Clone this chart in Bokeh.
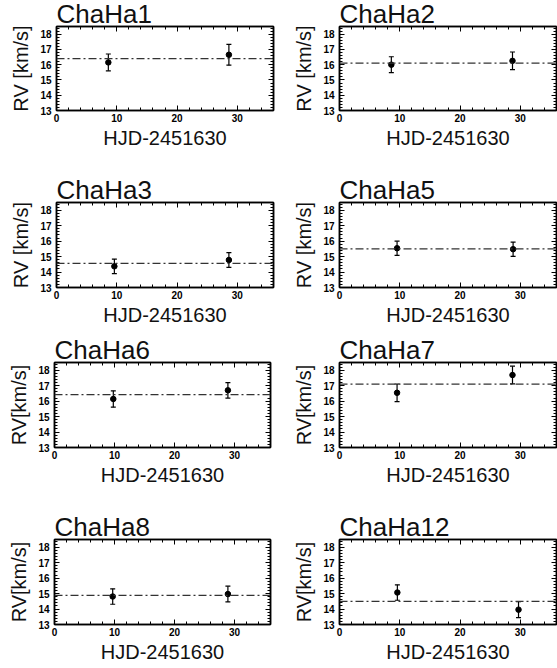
from bokeh.plotting import figure
from bokeh.models import (ColumnDataSource, Whisker, TeeHead, Span, LinearAxis,
                          SingleIntervalTicker, Range1d)
from bokeh.layouts import column, row
from bokeh.embed import file_html
from bokeh.resources import INLINE

# ---------------- data ----------------
stars = ["ChaHa1", "ChaHa2", "ChaHa3", "ChaHa5", "ChaHa6", "ChaHa7", "ChaHa8", "ChaHa12"]
hjd_first = [8.6, 8.6, 9.6, 9.55, 9.8, 9.55, 9.7, 9.6]
hjd_second = [28.6, 28.7, 28.6, 28.8, 28.9, 28.7, 28.9, 29.7]
rv_first = [16.15, 16.00, 14.37, 15.54, 16.14, 16.54, 14.81, 15.07]
rv_second = [16.65, 16.25, 14.78, 15.48, 16.70, 17.69, 14.97, 13.96]
err_first = [0.55, 0.52, 0.47, 0.46, 0.53, 0.57, 0.50, 0.50]
err_second = [0.68, 0.58, 0.48, 0.46, 0.50, 0.57, 0.51, 0.52]
rv_mean = [16.40, 16.10, 14.56, 15.50, 16.42, 17.10, 14.88, 14.49]
y_titles = ["RV [km/s]", "RV [km/s]", "RV [km/s]", "RV [km/s]",
            "RV[km/s]", "RV[km/s]", "RV[km/s]", "RV[km/s]"]
x_title = "HJD-2451630"
x_lim = (0, 36)
y_lim = (13, 18.5)

# ---------------- layout / style ----------------
FONT = "Liberation Sans"
row_borders = [(34, 84, 58), (34, 85, 41), (34, 85, 58), (34, 85, 44)]  # top, frame h, bottom
left_cols = [(56, 217, 17), (56, 217, 17), (54, 216, 20), (54, 216, 20)]
right_cols = [(46, 217, 3)] * 4


def style_axis(ax, show_labels):
    ax.major_tick_in = 5
    ax.major_tick_out = 0
    ax.minor_tick_in = 3
    ax.minor_tick_out = 0
    ax.axis_line_color = "black"
    ax.axis_line_width = 1.5
    ax.major_tick_line_color = "black"
    ax.major_tick_line_width = 1
    ax.minor_tick_line_color = "black"
    ax.minor_tick_line_width = 1
    if show_labels:
        ax.major_label_text_font = FONT
        ax.major_label_text_font_style = "bold"
        ax.major_label_text_font_size = "10px"
        ax.major_label_text_color = "black"
        ax.axis_label_text_font = FONT
        ax.axis_label_text_font_style = "normal"
        ax.axis_label_text_font_size = "20px"
        ax.axis_label_text_color = "#111111"
    else:
        ax.major_label_text_font_size = "1px"
        ax.major_label_text_color = None
        ax.major_label_standoff = 0
        ax.axis_label = None


def make_panel(i, r, c):
    mbt, fh, mbb = row_borders[r]
    mbl, fw, mbr = (left_cols if c == 0 else right_cols)[r]
    p = figure(frame_width=fw, frame_height=fh,
               x_range=Range1d(*x_lim), y_range=Range1d(*y_lim),
               output_backend="svg", toolbar_location=None,
               min_border=0, min_border_left=mbl, min_border_right=mbr,
               min_border_top=mbt, min_border_bottom=mbb,
               background_fill_color="white", border_fill_color="white")
    p.outline_line_color = "black"
    p.outline_line_width = 1.5
    p.xgrid.visible = False
    p.ygrid.visible = False

    p.title.text = stars[i]
    p.title.align = "left"
    p.title.text_font = FONT
    p.title.text_font_size = "26px"
    p.title.text_font_style = "normal"
    p.title.text_color = "#111111"
    p.title.offset = 0
    p.title.standoff = -5

    p.xaxis.ticker = SingleIntervalTicker(interval=10, num_minor_ticks=5)
    p.yaxis.ticker = SingleIntervalTicker(interval=1, num_minor_ticks=5)
    p.xaxis.axis_label = x_title
    p.yaxis.axis_label = y_titles[i]
    for ax in p.xaxis:
        style_axis(ax, True)
        ax.major_label_standoff = 3
        ax.axis_label_standoff = 2
    for ax in p.yaxis:
        style_axis(ax, True)
        ax.major_label_standoff = 5
        ax.axis_label_standoff = 5

    top = LinearAxis(ticker=SingleIntervalTicker(interval=10, num_minor_ticks=5))
    right = LinearAxis(ticker=SingleIntervalTicker(interval=1, num_minor_ticks=5))
    style_axis(top, False)
    style_axis(right, False)
    p.add_layout(top, "above")
    p.add_layout(right, "right")

    # mean RV line
    p.add_layout(Span(location=rv_mean[i], dimension="width", line_color="#333333",
                      line_width=1.3, line_dash="8 3 2 3"))

    t = [hjd_first[i], hjd_second[i]]
    v = [rv_first[i], rv_second[i]]
    e = [err_first[i], err_second[i]]
    src = ColumnDataSource(dict(t=t, v=v,
                                lo=[a - b for a, b in zip(v, e)],
                                hi=[a + b for a, b in zip(v, e)]))
    p.add_layout(Whisker(source=src, base="t", lower="lo", upper="hi",
                         line_color="black", line_width=1.2,
                         lower_head=TeeHead(size=5, line_color="black", line_width=1.2),
                         upper_head=TeeHead(size=5, line_color="black", line_width=1.2)))
    p.scatter("t", "v", source=src, size=5.5, color="black")
    return p


rows = []
for r in range(4):
    rows.append(row(make_panel(2 * r, r, 0), make_panel(2 * r + 1, r, 1), spacing=0))

layout = column(*rows, spacing=0, styles={"margin-top": "-8px"})

open("out.html", "w").write(file_html(layout, INLINE))
